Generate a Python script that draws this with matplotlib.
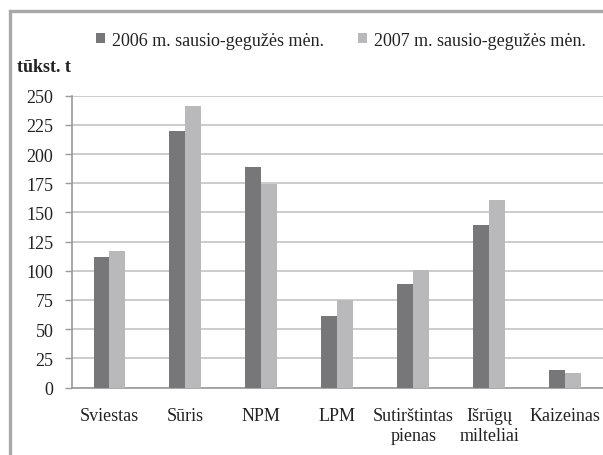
import numpy as np
import matplotlib.pyplot as plt
import matplotlib.patches as patches

plt.rcParams['font.family'] = ['Liberation Serif', 'DejaVu Serif']

# data
categories = ['Sviestas', 'Sūris', 'NPM', 'LPM', 'Sutirštintas\npienas',
              'Išrūgų\nmilteliai', 'Kaizeinas']
vals_2006 = [112, 220, 189, 61, 89, 139, 15]
vals_2007 = [117, 241, 174, 75, 101, 161, 12]
series_names = ['2006 m. sausio-gegužės mėn.', '2007 m. sausio-gegužės mėn.']
yticks = [0, 25, 50, 75, 100, 125, 150, 175, 200, 225, 250]

c_dark = '#77777a'
c_light = '#b9b9bc'
grid_c = '#c4c4c4'
fs = 13

fig = plt.figure(figsize=(6.03, 4.56), dpi=100)
ax = fig.add_axes([71.5 / 603, 67.5 / 456, 531.5 / 603, 291.7 / 456])

# outer frame (cropped on right/bottom in the original)
fig.patches.append(patches.Rectangle((9.5 / 603, -0.05), 1.2, (456 - 12) / 456 + 0.05,
                                     transform=fig.transFigure, fill=False,
                                     edgecolor='#a8a8a8', linewidth=2.4))

x = np.arange(len(categories))
w = 0.21
ax.bar(x - w / 2, vals_2006, w, color=c_dark, zorder=3, label=series_names[0])
ax.bar(x + w / 2, vals_2007, w, color=c_light, zorder=3, label=series_names[1])

ax.set_xlim(-0.5, len(categories) - 0.5)
ax.set_ylim(0, 250)
ax.set_yticks(yticks)
ax.set_xticks(x)
ax.set_xticklabels(categories, fontsize=fs, color='#222222', linespacing=1.25)
ax.tick_params(axis='x', length=0, pad=14)
ax.tick_params(axis='y', length=5, width=1, color='#999999', labelsize=fs,
               labelcolor='#222222', pad=8)
ax.yaxis.grid(True, color=grid_c, linewidth=1.2, zorder=0)
for s in ['top', 'right']:
    ax.spines[s].set_visible(False)
for s in ['left', 'bottom']:
    ax.spines[s].set_color('#999999')
    ax.spines[s].set_linewidth(1.2)

fig.text(17 / 603, 1 - 67 / 456, 'tūkst. t', fontsize=fs, fontweight='bold',
         va='center', ha='left', color='#222222')

leg = fig.legend(loc='center', bbox_to_anchor=(341 / 603, 1 - 41 / 456), ncol=2,
                 frameon=False, fontsize=fs, handlelength=0.5, handleheight=0.5,
                 handletextpad=0.4, columnspacing=1.9, labelcolor='#222222')

fig.savefig('out.png', dpi=100)
